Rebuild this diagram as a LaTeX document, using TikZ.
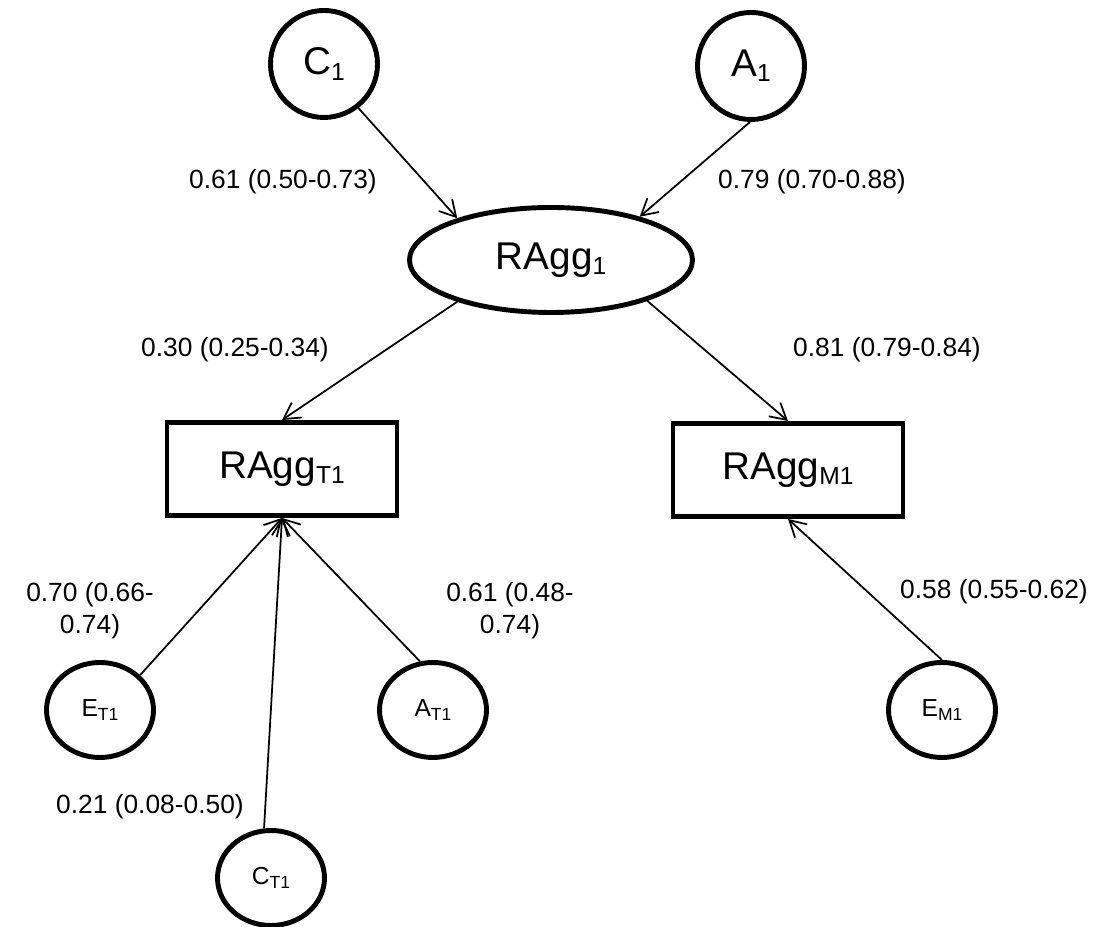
\documentclass[tikz,border=0pt]{standalone}
\usepackage{fontspec}
\setmainfont{Liberation Sans}
\usetikzlibrary{shapes.geometric,arrows.meta}
\newcommand{\bsub}[1]{\raisebox{-3pt}{\fontsize{14}{14}\selectfont #1}}
\newcommand{\ssub}[1]{\raisebox{-1.8pt}{\fontsize{10}{10}\selectfont #1}}
\tikzset{
  latent/.style={draw, ellipse, line width=2.8pt, inner sep=0pt, minimum width=2.14cm, minimum height=2.14cm, font=\fontsize{22}{24}\selectfont},
  small/.style={draw, ellipse, line width=2.8pt, inner sep=0pt, minimum width=2.14cm, minimum height=1.9cm, font=\fontsize{14}{16}\selectfont},
  obs/.style={draw, rectangle, line width=2.8pt, inner sep=0pt, minimum width=4.6cm, minimum height=1.86cm, font=\fontsize{22}{24}\selectfont},
  path/.style={-{Straight Barb[length=3.2mm, width=3.6mm]}, line width=1pt},
  est/.style={font=\fontsize{15}{18}\selectfont, align=center, inner sep=0pt}
}
\begin{document}
\begin{tikzpicture}
        \useasboundingbox (0,0) rectangle (22.02,18.54);
        \node [latent] (C) at (6.48,17.26) {C\bsub{1}};
        \node [latent] (A) at (15.02,17.22) {A\bsub{1}};
        \node [latent, minimum width=5.66cm, minimum height=2.1cm] (R) at (11.02,13.34) {RAgg\bsub{1}};
        \node [obs] (RT) at (5.64,9.16) {RAgg\bsub{T1}};
        \node [obs] (RM) at (15.76,9.14) {RAgg\bsub{M1}};
        \node [small] (ET) at (2.0,4.34) {E\ssub{T1}};
        \node [small] (AT) at (8.66,4.34) {A\ssub{T1}};
        \node [small] (CT) at (5.42,0.98) {C\ssub{T1}};
        \node [small] (EM) at (18.84,4.34) {E\ssub{M1}};
        \draw [path] (C.-52) -- (R.156);
        \draw [path] (A.-91) -- (R.26);
        \draw [path] (R.204) -- (RT.north);
        \draw [path] (R.-23.5) -- (RM.north);
        \draw [path] (ET.41) -- (RT.south);
        \draw [path] (CT.98) -- (RT.south);
        \draw [path] (AT.105) -- (RT.south);
        \draw [path] (EM.north) -- (RM.south);
        \node [est] (l1) at (5.66,14.9) {0.61 (0.50-0.73)};
        \node [est] (l2) at (16.24,14.9) {0.79 (0.70-0.88)};
        \node [est] (l3) at (4.7,11.54) {0.30 (0.25-0.34)};
        \node [est] (l4) at (17.74,11.54) {0.81 (0.79-0.84)};
        \node [est] (l5) at (1.8,6.32) {0.70 (0.66-\\0.74)};
        \node [est] (l6) at (10.2,6.32) {0.61 (0.48-\\0.74)};
        \node [est] (l7) at (19.88,6.7) {0.58 (0.55-0.62)};
        \node [est] (l8) at (3.0,2.4) {0.21 (0.08-0.50)};
    \end{tikzpicture}
\end{document}
